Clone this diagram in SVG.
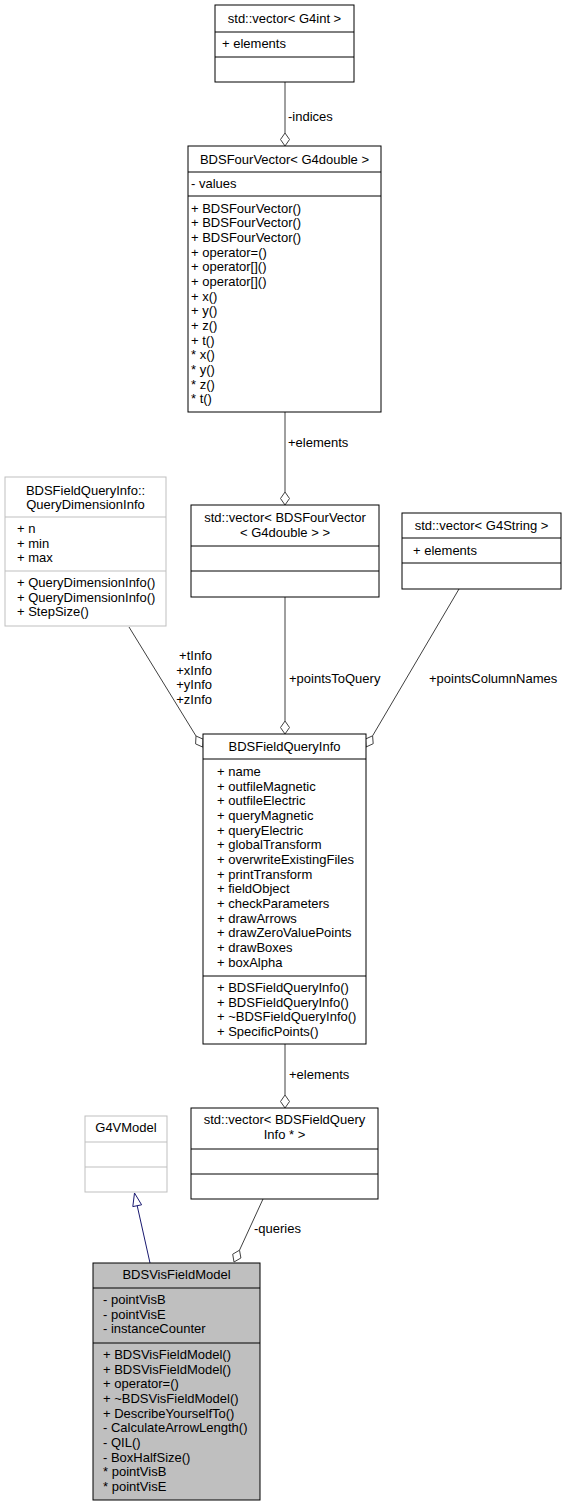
<svg xmlns="http://www.w3.org/2000/svg" width="567" height="1507" viewBox="0 0 567 1507">
<style>
text{font-family:"Liberation Sans",Arial,Helvetica,sans-serif;font-size:13px;fill:#000}
.c{text-anchor:middle}
.r{text-anchor:end}
.box{fill:#fff;stroke:#000;stroke-width:1}
.gbox{fill:#fff;stroke:#bfbfbf;stroke-width:1}
.sel{fill:#bfbfbf;stroke:#000;stroke-width:1}
.sep{stroke:#000;stroke-width:1}
.gsep{stroke:#bfbfbf;stroke-width:1}
.e{stroke:#404040;stroke-width:1;fill:none}
.d{stroke:#404040;stroke-width:1;fill:#fff}
.inh{stroke:#191970;stroke-width:1;fill:none}
.tri{stroke:#191970;stroke-width:1;fill:#fff}
</style>
<rect width="567" height="1507" fill="#fff"/>
<g id="connectors">
<g id="e_indices">
<path class="e" d="M285,82 L285,133"/>
<polygon class="d" points="285,146 280.5,139.5 285,133 289.5,139.5"/>
<text x="288" y="121">-indices</text>
</g>
<g id="e_elements1">
<path class="e" d="M285,412 L285,492"/>
<polygon class="d" points="285,505 280.5,498.5 285,492 289.5,498.5"/>
<text x="288" y="447">+elements</text>
</g>
<g id="e_pointsToQuery">
<path class="e" d="M285,597 L285,721"/>
<polygon class="d" points="285,734 280.5,727.5 285,721 289.5,727.5"/>
<text x="289" y="683">+pointsToQuery</text>
</g>
<g id="e_info">
<path class="e" d="M129,627 L196,736"/>
<polygon class="d" points="196,736 203.2,739.2 202.8,747.1 195.6,743.9"/>
<text class="r" x="212" y="660">+tInfo</text>
<text class="r" x="212" y="674.7">+xInfo</text>
<text class="r" x="212" y="689.3">+yInfo</text>
<text class="r" x="212" y="704">+zInfo</text>
</g>
<g id="e_pointsColumnNames">
<path class="e" d="M459,589 L372.6,735.8"/>
<polygon class="d" points="372.6,735.8 373.2,743.7 366,747 365.4,739.1"/>
<text x="429" y="683">+pointsColumnNames</text>
</g>
<g id="e_elements2">
<path class="e" d="M285,1044 L285,1095"/>
<polygon class="d" points="285,1108 280.5,1101.5 285,1095 289.5,1101.5"/>
<text x="289" y="1079">+elements</text>
</g>
<g id="e_queries">
<path class="e" d="M263,1199 L239.5,1250.2"/>
<polygon class="d" points="239.5,1250.2 240.9,1258 234,1262 232.7,1254.2"/>
<text x="254" y="1233">-queries</text>
</g>
<g id="e_inherit">
<path class="inh" d="M150,1263 L137.2,1205.7"/>
<polygon class="tri" points="134.5,1193 141.6,1204.8 132.8,1206.6"/>
</g>
</g>
<g id="n_vector_G4int">
<rect class="box" x="215" y="5" width="139" height="77"/>
<line class="sep" x1="215" y1="32" x2="354" y2="32"/>
<line class="sep" x1="215" y1="57" x2="354" y2="57"/>
<text class="c" x="284.5" y="22.5">std::vector&lt; G4int &gt;</text>
<text x="222" y="48">+ elements</text>
</g>
<g id="n_BDSFourVector">
<rect class="box" x="188" y="146" width="193" height="266"/>
<line class="sep" x1="188" y1="172" x2="381" y2="172"/>
<line class="sep" x1="188" y1="196" x2="381" y2="196"/>
<text class="c" x="284.5" y="164">BDSFourVector&lt; G4double &gt;</text>
<text x="191" y="187.5">- values</text>
<text x="191" y="212.5">+ BDSFourVector()</text>
<text x="191" y="227.2">+ BDSFourVector()</text>
<text x="191" y="241.8">+ BDSFourVector()</text>
<text x="191" y="256.5">+ operator=()</text>
<text x="191" y="271.2">+ operator[]()</text>
<text x="191" y="285.8">+ operator[]()</text>
<text x="191" y="300.5">+ x()</text>
<text x="191" y="315.2">+ y()</text>
<text x="191" y="329.9">+ z()</text>
<text x="191" y="344.5">+ t()</text>
<text x="191" y="359.2">* x()</text>
<text x="191" y="373.9">* y()</text>
<text x="191" y="388.5">* z()</text>
<text x="191" y="403.2">* t()</text>
</g>
<g id="n_QueryDimensionInfo">
<rect class="gbox" x="5" y="477" width="161" height="149"/>
<line class="gsep" x1="5" y1="517" x2="166" y2="517"/>
<line class="gsep" x1="5" y1="571" x2="166" y2="571"/>
<text class="c" x="85.5" y="494.5">BDSFieldQueryInfo::</text>
<text class="c" x="85.5" y="509">QueryDimensionInfo</text>
<text x="17" y="533">+ n</text>
<text x="17" y="547.7">+ min</text>
<text x="17" y="562.3">+ max</text>
<text x="17" y="587">+ QueryDimensionInfo()</text>
<text x="17" y="601.7">+ QueryDimensionInfo()</text>
<text x="17" y="616.3">+ StepSize()</text>
</g>
<g id="n_vector_BDSFourVector">
<rect class="box" x="191" y="505" width="188" height="92"/>
<line class="sep" x1="191" y1="546" x2="379" y2="546"/>
<line class="sep" x1="191" y1="571" x2="379" y2="571"/>
<text class="c" x="285" y="522">std::vector&lt; BDSFourVector</text>
<text class="c" x="285" y="536.7">&lt; G4double &gt; &gt;</text>
</g>
<g id="n_vector_G4String">
<rect class="box" x="402" y="513" width="159" height="76"/>
<line class="sep" x1="402" y1="538" x2="561" y2="538"/>
<line class="sep" x1="402" y1="563" x2="561" y2="563"/>
<text class="c" x="481.5" y="529.5">std::vector&lt; G4String &gt;</text>
<text x="413" y="554.5">+ elements</text>
</g>
<g id="n_BDSFieldQueryInfo">
<rect class="box" x="203" y="734" width="163" height="310"/>
<line class="sep" x1="203" y1="759" x2="366" y2="759"/>
<line class="sep" x1="203" y1="976" x2="366" y2="976"/>
<text class="c" x="284.5" y="750.5">BDSFieldQueryInfo</text>
<text x="217" y="776">+ name</text>
<text x="217" y="790.7">+ outfileMagnetic</text>
<text x="217" y="805.3">+ outfileElectric</text>
<text x="217" y="820">+ queryMagnetic</text>
<text x="217" y="834.7">+ queryElectric</text>
<text x="217" y="849.3">+ globalTransform</text>
<text x="217" y="864">+ overwriteExistingFiles</text>
<text x="217" y="878.7">+ printTransform</text>
<text x="217" y="893.4">+ fieldObject</text>
<text x="217" y="908">+ checkParameters</text>
<text x="217" y="922.7">+ drawArrows</text>
<text x="217" y="937.4">+ drawZeroValuePoints</text>
<text x="217" y="952">+ drawBoxes</text>
<text x="217" y="966.7">+ boxAlpha</text>
<text x="217" y="992">+ BDSFieldQueryInfo()</text>
<text x="217" y="1006.7">+ BDSFieldQueryInfo()</text>
<text x="217" y="1021.3">+ ~BDSFieldQueryInfo()</text>
<text x="217" y="1036">+ SpecificPoints()</text>
</g>
<g id="n_vector_BDSFieldQueryInfo">
<rect class="box" x="191" y="1108" width="187" height="91"/>
<line class="sep" x1="191" y1="1149" x2="378" y2="1149"/>
<line class="sep" x1="191" y1="1174" x2="378" y2="1174"/>
<text class="c" x="284.5" y="1124">std::vector&lt; BDSFieldQuery</text>
<text class="c" x="284.5" y="1138.7">Info * &gt;</text>
</g>
<g id="n_G4VModel">
<rect class="gbox" x="85" y="1116" width="82" height="76"/>
<line class="gsep" x1="85" y1="1142" x2="167" y2="1142"/>
<line class="gsep" x1="85" y1="1167" x2="167" y2="1167"/>
<text class="c" x="126" y="1132">G4VModel</text>
</g>
<g id="n_BDSVisFieldModel">
<rect class="sel" x="93" y="1263" width="167" height="237"/>
<line class="sep" x1="93" y1="1288" x2="260" y2="1288"/>
<line class="sep" x1="93" y1="1343" x2="260" y2="1343"/>
<text class="c" x="176.5" y="1278.5">BDSVisFieldModel</text>
<text x="103" y="1304">- pointVisB</text>
<text x="103" y="1318.7">- pointVisE</text>
<text x="103" y="1333.3">- instanceCounter</text>
<text x="103" y="1359">+ BDSVisFieldModel()</text>
<text x="103" y="1373.7">+ BDSVisFieldModel()</text>
<text x="103" y="1388.3">+ operator=()</text>
<text x="103" y="1403">+ ~BDSVisFieldModel()</text>
<text x="103" y="1417.7">+ DescribeYourselfTo()</text>
<text x="103" y="1432.3">- CalculateArrowLength()</text>
<text x="103" y="1447">- QIL()</text>
<text x="103" y="1461.7">- BoxHalfSize()</text>
<text x="103" y="1476.3">* pointVisB</text>
<text x="103" y="1491">* pointVisE</text>
</g>
</svg>
